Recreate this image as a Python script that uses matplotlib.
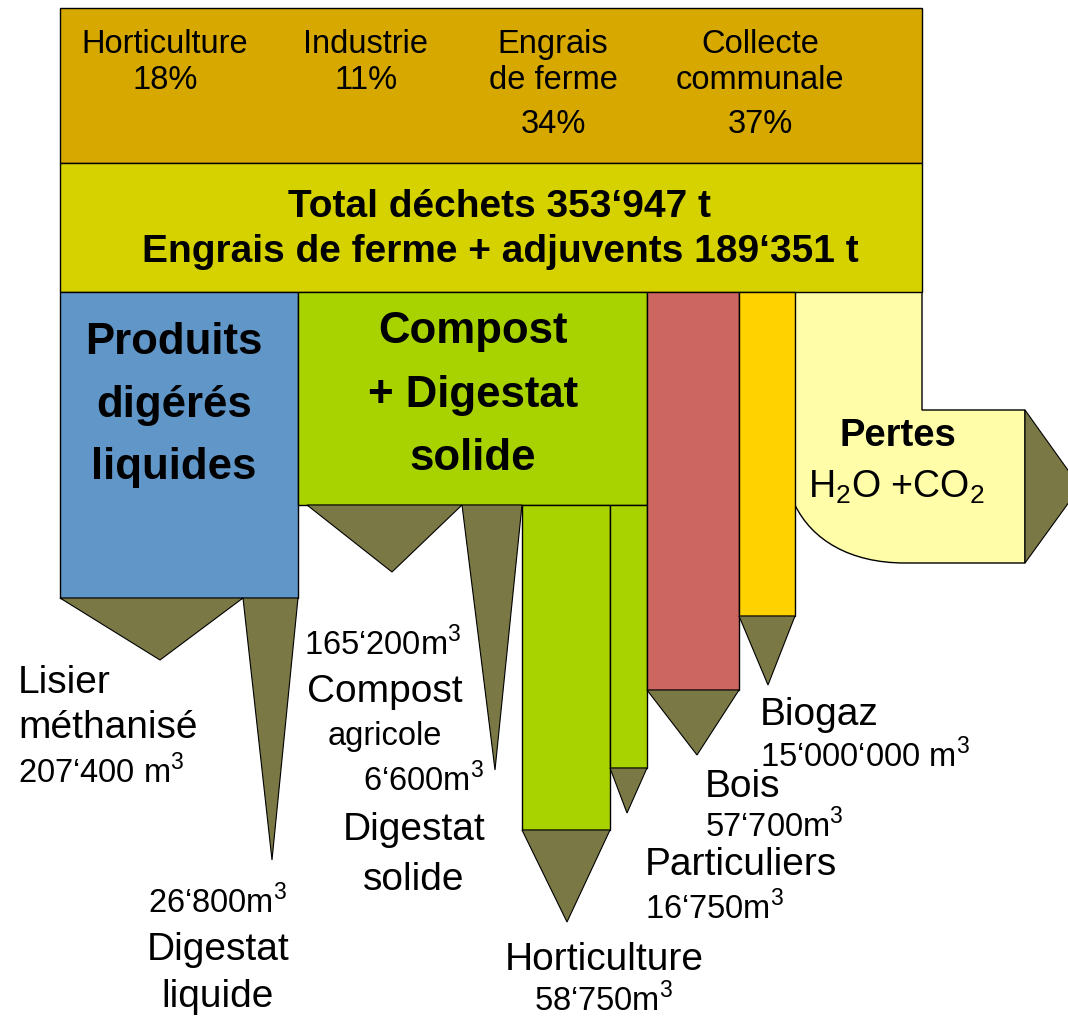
import matplotlib.pyplot as plt
from matplotlib.patches import Polygon, Rectangle, PathPatch
from matplotlib.path import Path

plt.rcParams['font.family'] = ['Liberation Sans', 'DejaVu Sans']
plt.rcParams['mathtext.fontset'] = 'custom'
plt.rcParams['mathtext.rm'] = 'Liberation Sans'
plt.rcParams['mathtext.bf'] = 'Liberation Sans:bold'

# sources of waste
sources = ['Horticulture', 'Industrie', 'Engrais\nde ferme', 'Collecte\ncommunale']
source_pct = [18, 11, 34, 37]
total_dechets = '353‘947'
engrais_adjuvents = '189‘351'

# products
liquid_products = ['Lisier\nméthanisé', 'Digestat\nliquide']
liquid_m3 = ['207‘400', '26‘800']
solid_products = ['Compost\nagricole', 'Digestat\nsolide']
solid_m3 = ['165‘200', '6‘600']
compost_users = ['Horticulture', 'Particuliers']
compost_users_m3 = ['58‘750', '16‘750']
bois_m3 = '57‘700'
biogaz_m3 = '15‘000‘000'

C_TOP = '#D6A800'
C_TOTAL = '#D6D200'
C_BLUE = '#6096C8'
C_GREEN = '#A8D200'
C_RED = '#CC6660'
C_GOLD = '#FFD200'
C_LOSS = '#FFFDA8'
C_OLIVE = '#7A7845'

BIG = 28     # labels
NUM = 23.5   # volumes

fig = plt.figure(figsize=(10.68, 10.19), dpi=100)
ax = fig.add_axes([0, 0, 1, 1])
ax.set_xlim(0, 1068)
ax.set_ylim(1019, 0)
ax.axis('off')

def box(x0, y0, x1, y1, color):
    ax.add_patch(Rectangle((x0, y0), x1 - x0, y1 - y0, fc=color, ec='black', lw=1))

def tri(x0, x1, y, xa, ya):
    ax.add_patch(Polygon([(x0, y), (x1, y), (xa, ya)], closed=True,
                         fc=C_OLIVE, ec='black', lw=0.8))

def lines(x, ys, txt, size, ha='center', **kw):
    for y, t in zip(ys, txt.split('\n')):
        ax.text(x, y, t, ha=ha, va='center', fontsize=size, **kw)

# losses shape (behind the bars)
verts = [(795, 292), (922, 292), (922, 410), (1025, 410), (1025, 563), (905, 563),
         (850, 563), (812, 540), (795, 505), (795, 292)]
codes = [Path.MOVETO, Path.LINETO, Path.LINETO, Path.LINETO, Path.LINETO, Path.LINETO,
         Path.CURVE4, Path.CURVE4, Path.CURVE4, Path.CLOSEPOLY]
ax.add_patch(PathPatch(Path(verts, codes), fc=C_LOSS, ec='black', lw=1))
ax.add_patch(Polygon([(1025, 410), (1080, 487), (1025, 563)], closed=True,
                     fc=C_OLIVE, ec='black', lw=0.8))

box(60, 8, 922, 163, C_TOP)
box(60, 163, 922, 292, C_TOTAL)
box(60, 292, 298, 598, C_BLUE)
box(298, 292, 647, 505, C_GREEN)
box(522, 505, 610, 830, C_GREEN)
box(610, 505, 647, 768, C_GREEN)
box(647, 292, 739, 690, C_RED)
box(739, 292, 795, 616, C_GOLD)

tri(60, 243, 598, 160, 660)
tri(243, 298, 598, 272, 860)
tri(307, 462, 505, 392, 572)
tri(462, 522, 505, 495, 770)
tri(522, 610, 830, 567, 922)
tri(610, 647, 768, 627, 813)
tri(647, 739, 690, 697, 755)
tri(739, 795, 616, 768, 685)

# source percentages
src_x = [165, 366, 553, 760]
for name, pct, x in zip(sources, source_pct, src_x):
    parts = name.split('\n')
    ys = [44, 80] if len(parts) == 1 else [44, 80, 124]
    lines(x, ys, '\n'.join(parts + [f'{pct}%']), 23.5)

ax.text(500, 207, f'Total déchets {total_dechets} t', ha='center', va='center',
        fontsize=28, fontweight='bold')
ax.text(500, 252, f'Engrais de ferme + adjuvents {engrais_adjuvents} t', ha='center',
        va='center', fontsize=28, fontweight='bold')

lines(174, [342, 406, 468], 'Produits\ndigérés\nliquides', 31.5, fontweight='bold')
lines(473, [332, 395, 458], 'Compost\n+ Digestat\nsolide', 31.5, fontweight='bold')
ax.text(898, 436, 'Pertes', ha='center', va='center', fontsize=27.5, fontweight='bold')
ax.text(896, 487, 'H$_2$O +CO$_2$', ha='center', va='center', fontsize=27)

# liquid products
lines(18, [683, 728], liquid_products[0], BIG, ha='left')
ax.text(18, 772, f'{liquid_m3[0]} m$^3$', ha='left', va='center', fontsize=NUM)
ax.text(218, 903, f'{liquid_m3[1]}m$^3$', ha='center', va='center', fontsize=NUM)
lines(218, [950, 997], liquid_products[1], BIG)

# solid products
ax.text(304, 645, f'{solid_m3[0]}m$^3$', ha='left', va='center', fontsize=NUM)
ax.text(385, 692, 'Compost', ha='center', va='center', fontsize=BIG)
ax.text(385, 737, 'agricole', ha='center', va='center', fontsize=NUM)
ax.text(484, 780, f'{solid_m3[1]}m$^3$', ha='right', va='center', fontsize=NUM)
lines(414, [830, 880], solid_products[1], BIG)

# compost users, wood, biogas
ax.text(604, 960, compost_users[0], ha='center', va='center', fontsize=BIG)
ax.text(604, 1000, f'{compost_users_m3[0]}m$^3$', ha='center', va='center', fontsize=NUM)
ax.text(645, 865, compost_users[1], ha='left', va='center', fontsize=BIG)
ax.text(645, 908, f'{compost_users_m3[1]}m$^3$', ha='left', va='center', fontsize=NUM)
ax.text(705, 787, 'Bois', ha='left', va='center', fontsize=BIG)
ax.text(705, 827, f'{bois_m3}m$^3$', ha='left', va='center', fontsize=NUM)
ax.text(760, 715, 'Biogaz', ha='left', va='center', fontsize=BIG)
ax.text(760, 757, f'{biogaz_m3} m$^3$', ha='left', va='center', fontsize=NUM)

fig.savefig('out.png', dpi=100)
